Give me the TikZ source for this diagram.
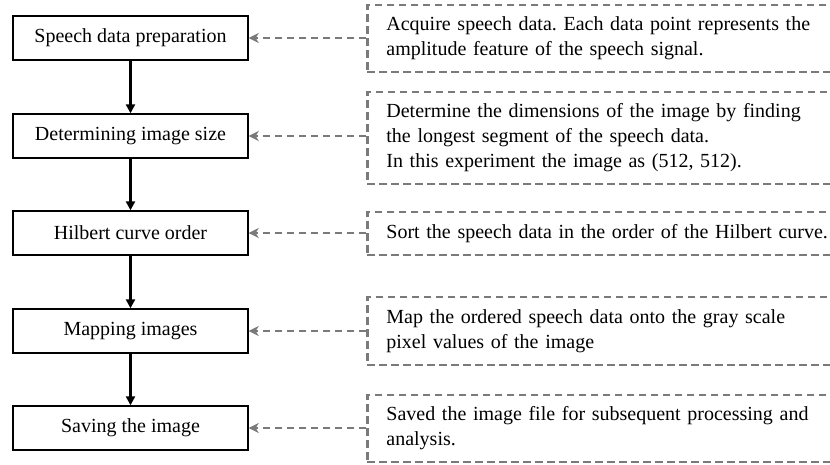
\documentclass[tikz,border=0pt]{standalone}
\usepackage{fontspec}
\setmainfont{Liberation Serif}
\usetikzlibrary{arrows.meta}
\definecolor{notegray}{RGB}{122,122,122}
\tikzset{
  stepbox/.style={draw=black, line width=1.4pt, minimum width=235pt, minimum height=44pt,
    inner sep=0pt, font=\fontsize{20}{25}\selectfont},
  notebox/.style={draw=notegray, line width=2.8pt, dash pattern=on 7.5pt off 4.5pt,
    anchor=west, minimum width=484pt, text width=446pt, inner xsep=19pt, inner ysep=0pt,
    align=left, font=\fontsize{20}{25}\selectfont},
  flow/.style={line width=2.2pt, -{Triangle[length=9pt,width=9pt]}},
  link/.style={draw=notegray, line width=2.8pt, dash pattern=on 7.5pt off 4.5pt,
    -{Stealth[length=10pt,width=10pt,inset=3pt]}}
}
\begin{document}
\frenchspacing
\begin{tikzpicture}[x=1pt,y=-1pt]
  \useasboundingbox (0,0) rectangle (830,464);
  \clip (0,0) rectangle (830,464);

  % process steps
  \node[stepbox] (s1) at (130.5,38) {Speech data preparation};
  \node[stepbox] (s2) at (130.5,136) {Determining image size};
  \node[stepbox] (s3) at (130.5,233) {Hilbert curve order};
  \node[stepbox] (s4) at (130.5,331) {Mapping images};
  \node[stepbox] (s5) at (130.5,428) {Saving the image};

  % descriptions
  \node[notebox, minimum height=67pt] (n1) at (366,38.5)
    {Acquire speech data. Each data point represents the\\amplitude feature of the speech signal.};
  \node[notebox, minimum height=92pt] (n2) at (366,138)
    {Determine the dimensions of the image by finding\\the longest segment of the speech data.\\In this experiment the image as (512, 512).};
  \node[notebox, minimum height=43pt] (n3) at (366,233.5)
    {Sort the speech data in the order of the Hilbert curve.};
  \node[notebox, minimum height=68pt] (n4) at (366,331)
    {Map the ordered speech data onto the gray scale\\pixel values of the image};
  \node[notebox, minimum height=67pt] (n5) at (366,428.5)
    {Saved the image file for subsequent processing and\\analysis.};

  % flow between steps
  \draw[flow] (s1) -- (s2);
  \draw[flow] (s2) -- (s3);
  \draw[flow] (s3) -- (s4);
  \draw[flow] (s4) -- (s5);

  % descriptions point to their steps
  \draw[link] (n1.west |- s1) -- (s1.east);
  \draw[link] (n2.west |- s2) -- (s2.east);
  \draw[link] (n3.west |- s3) -- (s3.east);
  \draw[link] (n4.west |- s4) -- (s4.east);
  \draw[link] (n5.west |- s5) -- (s5.east);
\end{tikzpicture}
\end{document}
